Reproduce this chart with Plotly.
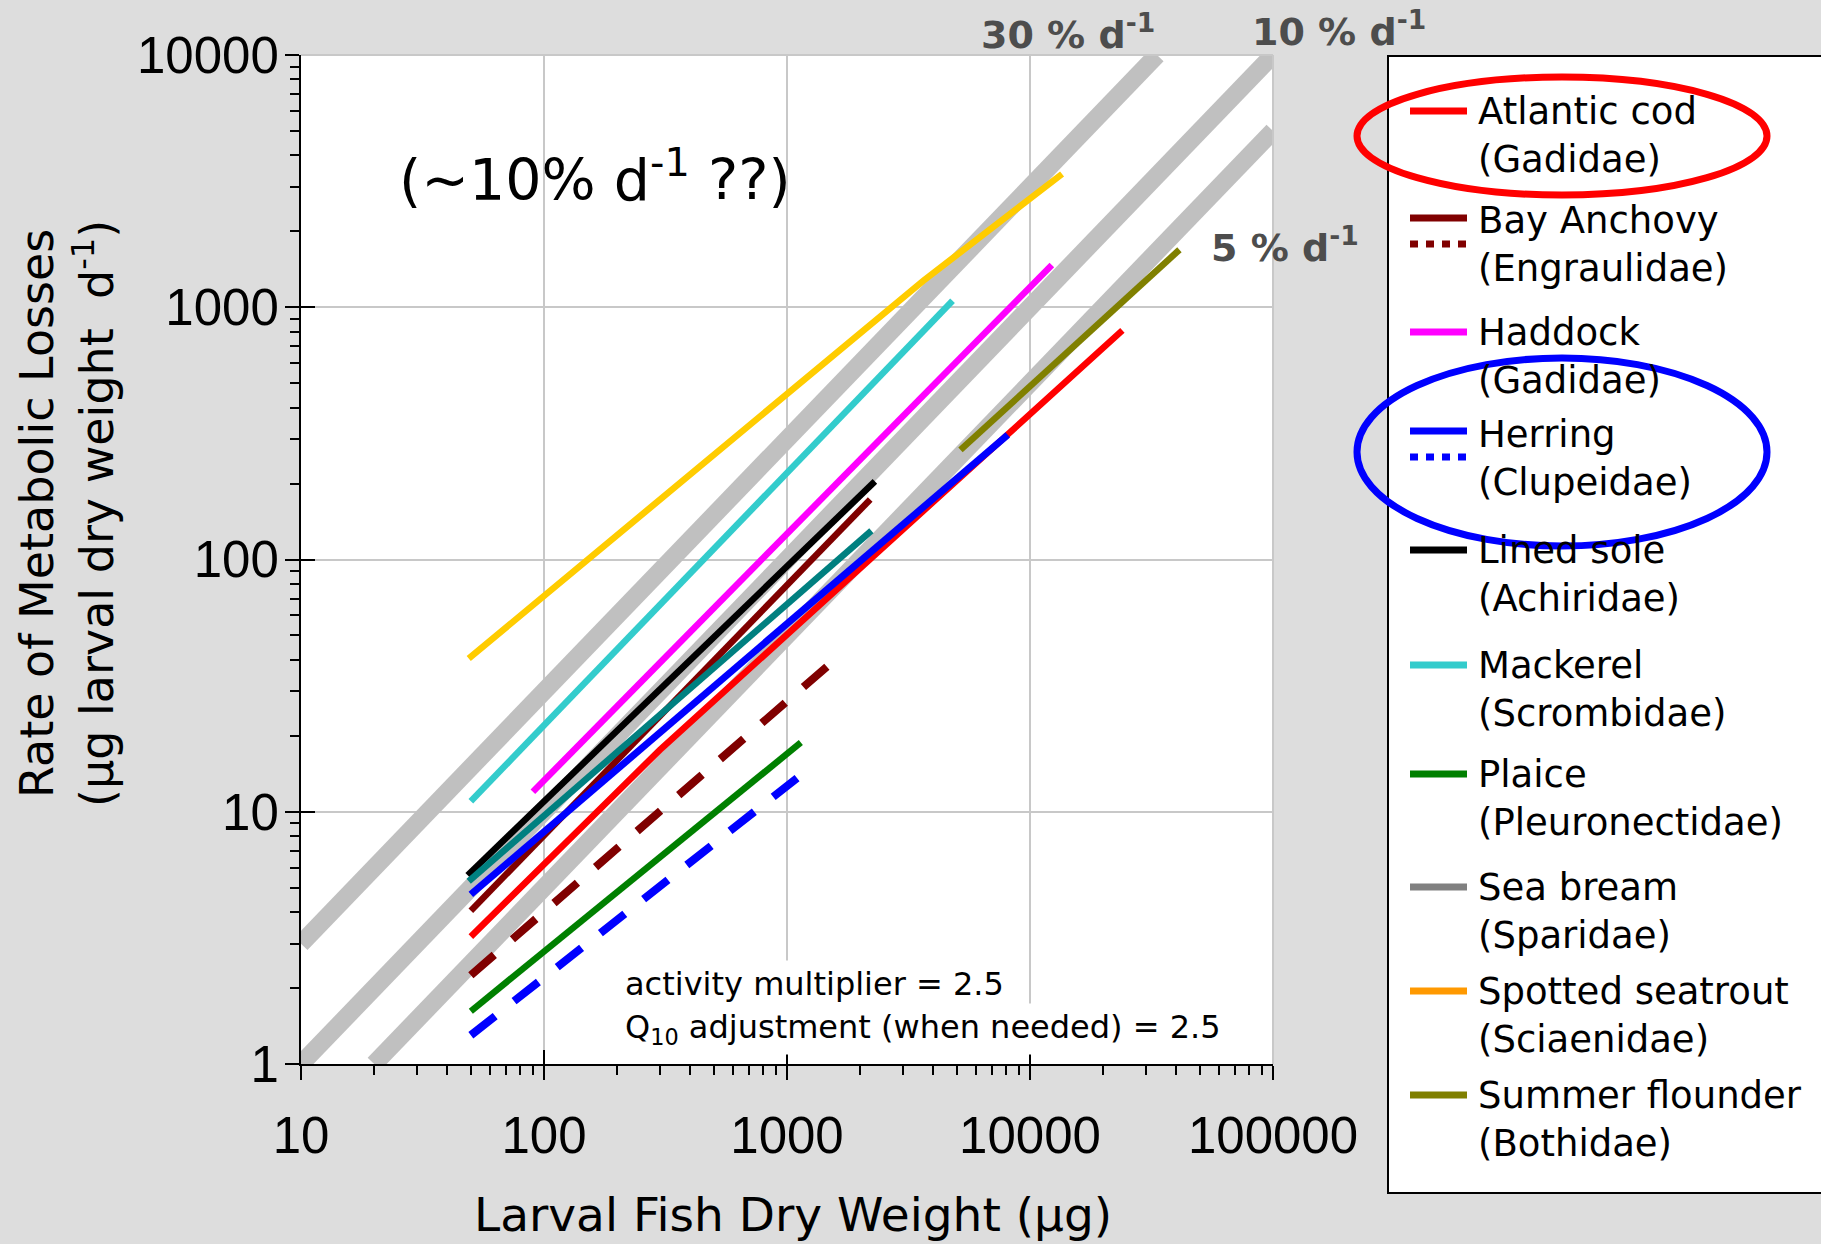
import plotly.graph_objects as go

# ---------------- data ----------------
x_ticks = [10, 100, 1000, 10000, 100000]
y_ticks = [1, 10, 100, 1000, 10000]

# reference growth-rate lines (y = rate * x)
ref_labels = ["30 % d<sup>-1</sup>", "10 % d<sup>-1</sup>", "5 % d<sup>-1</sup>"]
ref30_x = [10, 33333]
ref30_y = [3, 10000]
ref10_x = [10, 100000]
ref10_y = [1, 10000]
ref05_x = [20, 100000]
ref05_y = [1, 5000]

cod_x = [50, 300, 24000]
cod_y = [3.2, 17.6, 810]
anchovy_x = [50, 2200]
anchovy_y = [4.05, 173]
anchovy_q10_x = [50, 1550]
anchovy_q10_y = [2.25, 39.5]
haddock_x = [90, 12300]
haddock_y = [12.0, 1470]
herring_x = [50, 8100]
herring_y = [4.7, 312]
herring_q10_x = [50, 1100]
herring_q10_y = [1.3, 13.6]
sole_x = [48.5, 2300]
sole_y = [5.6, 204]
mackerel_x = [50, 4800]
mackerel_y = [11.0, 1060]
plaice_x = [50, 1140]
plaice_y = [1.62, 18.8]
bream_x = [49, 2225]
bream_y = [5.3, 130]
seatrout_x = [49, 3640, 13550]
seatrout_y = [40.5, 1274, 3375]
flounder_x = [5175, 41200]
flounder_y = [272, 1690]

legend_species = ["Atlantic cod", "Bay Anchovy", "Haddock", "Herring", "Lined sole",
                  "Mackerel", "Plaice", "Sea bream", "Spotted seatrout", "Summer flounder"]
legend_families = ["(Gadidae)", "(Engraulidae)", "(Gadidae)", "(Clupeidae)", "(Achiridae)",
                   "(Scrombidae)", "(Pleuronectidae)", "(Sparidae)", "(Sciaenidae)", "(Bothidae)"]
legend_colors = ["#FF0000", "#800000", "#FF00FF", "#0000FF", "#000000",
                 "#33CCCC", "#008000", "#808080", "#FF9900", "#808000"]
legend_has_dotted = [False, True, False, True, False, False, False, False, False, False]

note_lines = ["activity multiplier = 2.5", "Q<sub>10</sub> adjustment (when needed) = 2.5"]
note_text = "(~10% d<sup>-1</sup> ??)"
x_title = "Larval Fish Dry Weight (µg)"
y_title_1 = "Rate of Metabolic Losses"
y_title_2 = "(µg larval dry weight&nbsp; d<sup>-1</sup>)"

# ---------------- layout helpers ----------------
W, H = 1821, 1244
L, R, T, B = 301, 548, 55, 180
PW, PH = W - L - R, H - T - B


def pxx(x):
    return (x - L) / PW


def pxy(y):
    return (H - B - y) / PH


fig = go.Figure()

GRAY = "#C0C0C0"
for xs, ys in [(ref30_x, ref30_y), (ref10_x, ref10_y), (ref05_x, ref05_y)]:
    fig.add_trace(go.Scatter(x=xs, y=ys, mode="lines", line=dict(color=GRAY, width=18),
                             showlegend=False, hoverinfo="skip"))

series = [
    (cod_x, cod_y, "#FF0000", "solid", 6.5),
    (anchovy_x, anchovy_y, "#800000", "solid", 6.5),
    (anchovy_q10_x, anchovy_q10_y, "#800000", "31px,24px", 8),
    (haddock_x, haddock_y, "#FF00FF", "solid", 6.5),
    (sole_x, sole_y, "#000000", "solid", 6.5),
    (bream_x, bream_y, "#008080", "solid", 6.5),
    (herring_x, herring_y, "#0000FF", "solid", 7),
    (herring_q10_x, herring_q10_y, "#0000FF", "31px,24px", 8),
    (mackerel_x, mackerel_y, "#33CCCC", "solid", 6.5),
    (plaice_x, plaice_y, "#008000", "solid", 6.5),
    (seatrout_x, seatrout_y, "#FFCC00", "solid", 6.5),
    (flounder_x, flounder_y, "#808000", "solid", 6.5),
]
for xs, ys, col, dash, w in series:
    fig.add_trace(go.Scatter(x=xs, y=ys, mode="lines", line=dict(color=col, width=w, dash=dash),
                             showlegend=False, hoverinfo="skip"))

# dummy trace for the overlay axes carrying the inside half of the major ticks
fig.add_trace(go.Scatter(x=[None], y=[None], xaxis="x2", yaxis="y2", showlegend=False,
                         hoverinfo="skip"))

minor_x = [m * 10 ** e for e in range(1, 5) for m in range(2, 10)]
minor_y = [m * 10 ** e for e in range(0, 4) for m in range(2, 10)]

tickfont = dict(family="Liberation Sans", size=51, color="black")
common = dict(type="log", ticks="outside", ticklen=14, tickwidth=2, tickcolor="black",
              showline=True, linecolor="black", linewidth=2, showgrid=True,
              gridcolor="#C8C8C8", gridwidth=2, zeroline=False, tickfont=tickfont)

fig.update_layout(
    width=W, height=H,
    margin=dict(l=L, r=R, t=T, b=B, pad=0),
    paper_bgcolor="#DDDDDD", plot_bgcolor="white",
    showlegend=False,
    xaxis=dict(range=[1, 5], tickvals=x_ticks, ticktext=[str(v) for v in x_ticks],
               ticklabelstandoff=12,
               minor=dict(tickmode="array", tickvals=minor_x, ticks="outside", ticklen=9,
                          tickwidth=2, tickcolor="black", showgrid=False),
               **common),
    yaxis=dict(range=[0, 4], tickvals=y_ticks, ticktext=[str(v) for v in y_ticks],
               ticklabelstandoff=-4,
               minor=dict(tickmode="array", tickvals=minor_y, ticks="outside", ticklen=9,
                          tickwidth=2, tickcolor="black", showgrid=False),
               **common),
    xaxis2=dict(type="log", range=[1, 5], overlaying="x", anchor="y2", side="bottom",
                tickvals=x_ticks, ticks="inside", ticklen=14, tickwidth=2, tickcolor="black",
                showticklabels=False, showgrid=False, showline=False, zeroline=False),
    yaxis2=dict(type="log", range=[0, 4], overlaying="y", anchor="x2", side="left",
                tickvals=y_ticks, ticks="inside", ticklen=14, tickwidth=2, tickcolor="black",
                showticklabels=False, showgrid=False, showline=False, zeroline=False),
)

shapes = []
# top and right plot edges (grey like the grid)
shapes.append(dict(type="line", xref="paper", yref="paper", x0=0, x1=1, y0=1, y1=1,
                   line=dict(color="#C8C8C8", width=2), layer="above"))
shapes.append(dict(type="line", xref="paper", yref="paper", x0=1, x1=1, y0=0, y1=1,
                   line=dict(color="#C8C8C8", width=2), layer="above"))

# legend box
shapes.append(dict(type="rect", xref="paper", yref="paper", x0=pxx(1388), x1=pxx(1840),
                   y0=pxy(1193), y1=pxy(56), fillcolor="white",
                   line=dict(color="black", width=2), layer="above"))

legend_row_y = [135, 245, 356, 458, 574, 689, 798, 911, 1015, 1119]
annotations = []
for i, name in enumerate(legend_species):
    yc = legend_row_y[i]
    col = legend_colors[i]
    if legend_has_dotted[i]:
        shapes.append(dict(type="line", xref="paper", yref="paper", x0=pxx(1410), x1=pxx(1467),
                           y0=pxy(yc - 27), y1=pxy(yc - 27), line=dict(color=col, width=7),
                           layer="above"))
        shapes.append(dict(type="line", xref="paper", yref="paper", x0=pxx(1410), x1=pxx(1467),
                           y0=pxy(yc - 1), y1=pxy(yc - 1),
                           line=dict(color=col, width=7, dash="8px,8px"), layer="above"))
    else:
        shapes.append(dict(type="line", xref="paper", yref="paper", x0=pxx(1410), x1=pxx(1467),
                           y0=pxy(yc - 24), y1=pxy(yc - 24), line=dict(color=col, width=7),
                           layer="above"))
    annotations.append(dict(text=name + "<br>" + legend_families[i], xref="paper", yref="paper",
                            x=pxx(1476), y=pxy(yc), xanchor="left", yanchor="middle",
                            align="left", showarrow=False,
                            font=dict(family="DejaVu Sans", size=37, color="black")))

# highlight ellipses
shapes.append(dict(type="circle", xref="paper", yref="paper", x0=pxx(1357), x1=pxx(1767),
                   y0=pxy(195), y1=pxy(77), line=dict(color="#FF0000", width=7), layer="above"))
shapes.append(dict(type="circle", xref="paper", yref="paper", x0=pxx(1357), x1=pxx(1767),
                   y0=pxy(546), y1=pxy(358), line=dict(color="#0000FF", width=7), layer="above"))

# reference-line labels
ref_label_pos = [(979, 32), (1250, 29), (1209, 245)]
for lab, (lx, ly) in zip(ref_labels, ref_label_pos):
    annotations.append(dict(text=lab, xref="paper", yref="paper", x=pxx(lx), y=pxy(ly),
                            xanchor="left", yanchor="middle", showarrow=False,
                            font=dict(family="DejaVu Sans", size=38, color="#4D4D4D",
                                      weight="bold")))

annotations.append(dict(text=note_text, xref="paper", yref="paper", x=pxx(397), y=pxy(176),
                        xanchor="left", yanchor="middle", showarrow=False,
                        font=dict(family="DejaVu Sans", size=57, color="black")))

for txt, ly in zip(note_lines, [984, 1029]):
    annotations.append(dict(text=txt, xref="paper", yref="paper", x=pxx(620), y=pxy(ly),
                            xanchor="left", yanchor="middle", showarrow=False,
                            bgcolor="white", borderpad=4,
                            font=dict(family="DejaVu Sans", size=32, color="black")))

# axis titles
annotations.append(dict(text=x_title, xref="paper", yref="paper", x=pxx(793), y=pxy(1214),
                        xanchor="center", yanchor="middle", showarrow=False,
                        font=dict(family="DejaVu Sans", size=47, color="black")))
annotations.append(dict(text=y_title_1, xref="paper", yref="paper", x=pxx(37), y=pxy(514),
                        xanchor="center", yanchor="middle", showarrow=False, textangle=-90,
                        font=dict(family="DejaVu Sans", size=46, color="black")))
annotations.append(dict(text=y_title_2, xref="paper", yref="paper", x=pxx(94), y=pxy(514),
                        xanchor="center", yanchor="middle", showarrow=False, textangle=-90,
                        font=dict(family="DejaVu Sans", size=46, color="black")))

fig.update_layout(shapes=shapes, annotations=annotations)
fig.write_html("out.html")
